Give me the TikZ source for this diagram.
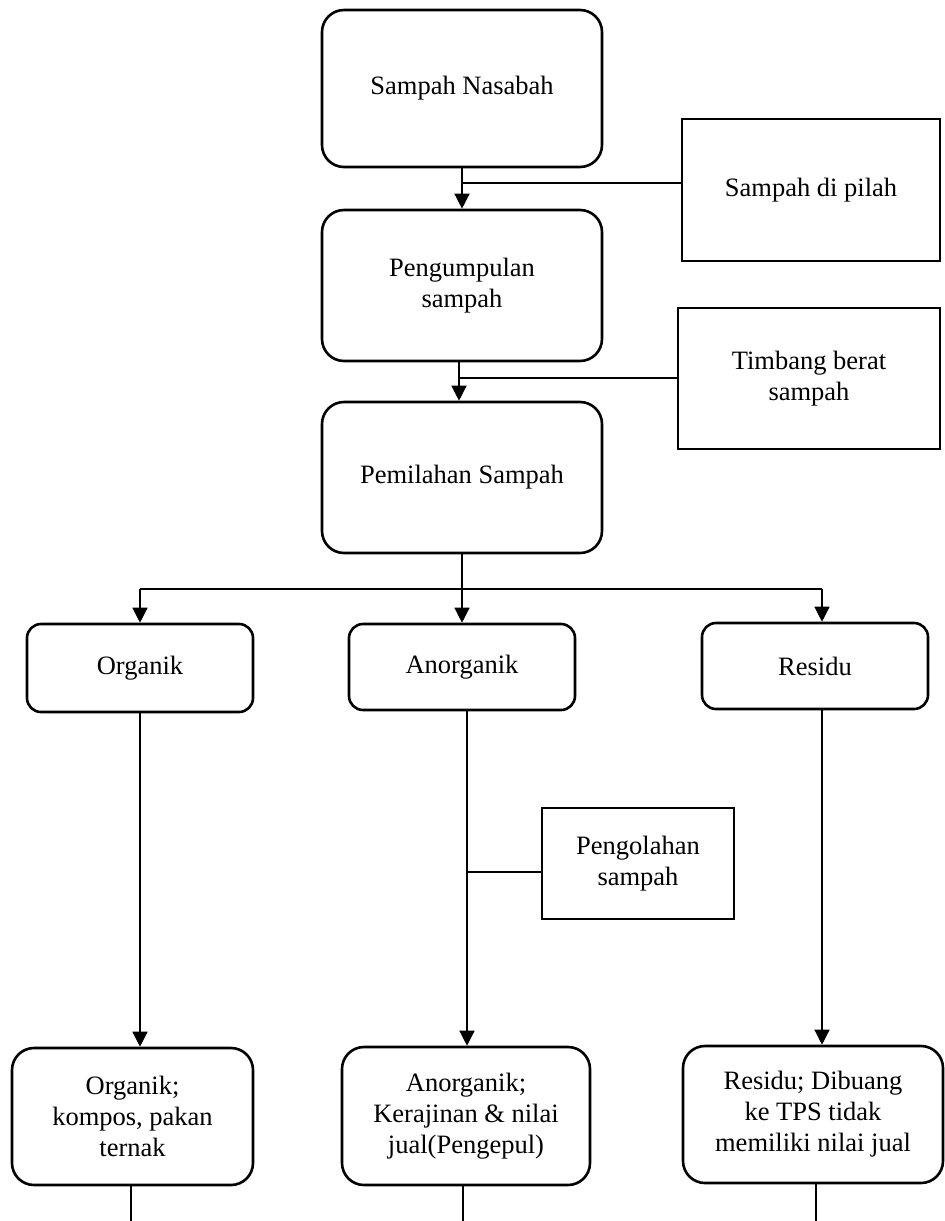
\documentclass[tikz,border=0pt]{standalone}
\usepackage{fontspec}
\setmainfont{Liberation Serif}
\usetikzlibrary{arrows.meta}
\begin{document}
\begin{tikzpicture}[x=1pt,y=-1pt,
  bigbox/.style={draw,line width=2.6pt,rounded corners=22pt,inner sep=0pt,align=center,font=\fontsize{26.5}{31}\selectfont},
  smallbox/.style={draw,line width=2.6pt,rounded corners=14pt,inner sep=0pt,align=center,font=\fontsize{26.5}{31}\selectfont},
  sidebox/.style={draw,line width=2.6pt,inner sep=0pt,align=center,font=\fontsize{26.5}{31}\selectfont},
  conn/.style={line width=1.3pt},
  arr/.style={conn,-{Triangle[length=15pt,width=15pt]}}]
\useasboundingbox (0,0) rectangle (945,1221);
% main column
\node[bigbox,minimum width=280pt,minimum height=157pt] (n1) at (462,88.5) {Sampah Nasabah};
\node[bigbox,minimum width=280pt,minimum height=151pt] (n2) at (462,285.5) {Pengumpulan\\sampah};
\node[bigbox,minimum width=280pt,minimum height=151pt] (n3) at (462,477.5) {Pemilahan Sampah};
\node[sidebox,minimum width=258pt,minimum height=142pt] (pilah) at (811,190) {Sampah di pilah};
\node[sidebox,minimum width=262pt,minimum height=141pt] (timbang) at (809,378.5) {Timbang berat\\sampah};
% categories
\node[smallbox,minimum width=226pt,minimum height=88pt] (org) at (140,668) {Organik};
\node[smallbox,minimum width=226pt,minimum height=86pt] (anorg) at (462,667) {Anorganik};
\node[smallbox,minimum width=226pt,minimum height=86pt] (res) at (815,666) {Residu};
\node[sidebox,minimum width=192pt,minimum height=111pt] (proc) at (638,863.5) {Pengolahan\\sampah};
% results
\node[bigbox,minimum width=241pt,minimum height=137pt] (borg) at (132.5,1116.5) {Organik;\\kompos, pakan\\ternak};
\node[bigbox,minimum width=248pt,minimum height=138pt] (banorg) at (466,1116) {Anorganik;\\Kerajinan \& nilai\\jual(Pengepul)};
\node[bigbox,minimum width=260pt,minimum height=137pt] (bres) at (813,1114.5) {Residu; Dibuang\\ke TPS tidak\\memiliki nilai jual};
% coordinates
\coordinate (j1) at (462,183);
\coordinate (c2) at (459,0);
\coordinate (j2) at (459,378);
\coordinate (j3) at (462,589);
\coordinate (xo) at (140,589);
\coordinate (xr) at (822,589);
\coordinate (xa) at (467,0);
\coordinate (j4) at (467,872);
\coordinate (e1) at (131,1221);
\coordinate (e2) at (463,1221);
\coordinate (e3) at (816,1221);
% connectors
\draw[arr] (n1.south) -- (n2.north);
\draw[conn] (pilah.west |- j1) -- (j1);
\draw[arr] (n2.south -| c2) -- (n3.north -| c2);
\draw[conn] (timbang.west |- j2) -- (j2);
\draw[conn] (n3.south) -- (j3);
\draw[conn] (xo) -- (xr);
\draw[arr] (xo) -- (org.north -| xo);
\draw[arr] (j3) -- (anorg.north);
\draw[arr] (xr) -- (res.north -| xr);
\draw[arr] (org.south -| xo) -- (borg.north -| xo);
\draw[arr] (anorg.south -| xa) -- (banorg.north -| xa);
\draw[conn] (proc.west |- j4) -- (j4);
\draw[arr] (res.south -| xr) -- (bres.north -| xr);
\draw[conn] (borg.south -| e1) -- (e1);
\draw[conn] (banorg.south -| e2) -- (e2);
\draw[conn] (bres.south -| e3) -- (e3);
\end{tikzpicture}
\end{document}
